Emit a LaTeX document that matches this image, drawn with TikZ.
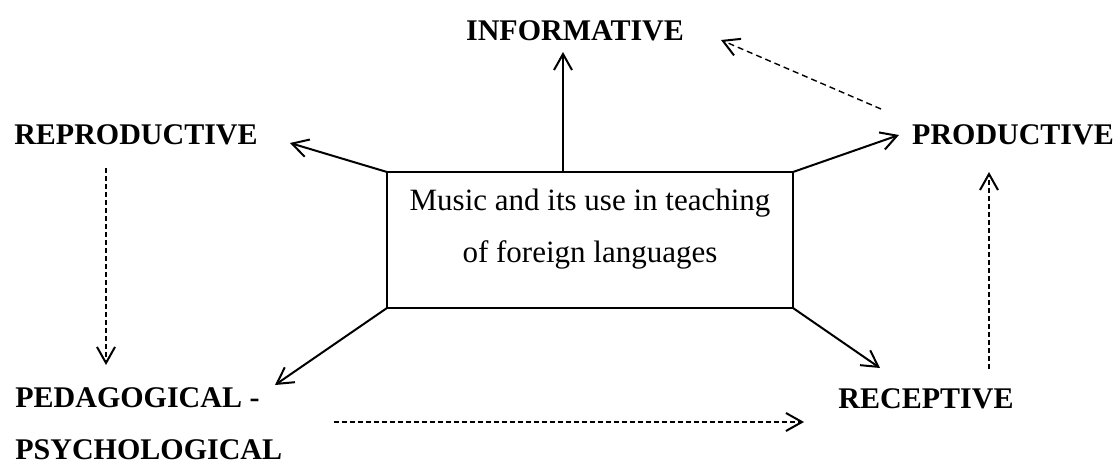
\documentclass[tikz,border=0pt]{standalone}
\usepackage{fontspec}
\setmainfont{Liberation Serif}
\usepackage{tikz}
\usetikzlibrary{arrows.meta}

\begin{document}
\begin{tikzpicture}[x=0.5pt, y=-0.5pt,
	every node/.style={font=\fontsize{15.5}{26}\selectfont},
	kind/.style={font=\fontsize{15}{26}\selectfont\bfseries, inner sep=0pt},
	link/.style={-{Straight Barb[length=8pt, width=9pt, line width=1pt]}, line width=1pt},
	hint/.style={link, line width=0.7pt, dash pattern=on 2.5pt off 1.5pt}]
	\useasboundingbox (0,0) rectangle (1119,465);

	\node[draw, line width=1pt, outer sep=0pt, minimum width=203pt, minimum height=68pt] (box) at (590,240) {};
	\node[align=center, inner sep=0pt, anchor=north] (topic) at (590,189) {Music and its use in teaching\\of foreign languages};

	\node[kind] (info)  at (575,31)  {INFORMATIVE};
	\node[kind] (repro) at (136,135) {REPRODUCTIVE};
	\node[kind] (prod)  at (1013,135) {PRODUCTIVE};
	\node[kind] (recep) at (926,399) {RECEPTIVE};
	\node[kind, align=left, anchor=north west] (peda) at (15,387) {PEDAGOGICAL -\\PSYCHOLOGICAL};

	\coordinate (infoTip)  at (563,52);
	\coordinate (reproTip) at (290,143);
	\coordinate (prodTip)  at (899,135);
	\coordinate (pedaTip)  at (275,385);
	\coordinate (recepTip) at (880,368);

	\draw[link] (box.north -| infoTip) -- (infoTip);
	\draw[link] (box.north west) -- (reproTip);
	\draw[link] (box.north east) -- (prodTip);
	\draw[link] (box.south west) -- (pedaTip);
	\draw[link] (box.south east) -- (recepTip);

	% dashed links between the kinds
	\coordinate (prodUp)    at (881,109);
	\coordinate (infoBack)  at (721,40);
	\coordinate (reproDown) at (106,168);
	\coordinate (pedaUp)    at (106,365);
	\coordinate (recepUp)   at (989,369);
	\coordinate (prodDown)  at (989,172);
	\coordinate (pedaRight) at (334,422);
	\coordinate (recepLeft) at (804,422);

	\draw[hint, dash pattern=on 3pt off 2pt] (prodUp) -- (infoBack);
	\draw[hint] (reproDown) -- (pedaUp);
	\draw[hint] (recepUp) -- (prodDown);
	\draw[hint] (pedaRight) -- (recepLeft);
\end{tikzpicture}
\end{document}
